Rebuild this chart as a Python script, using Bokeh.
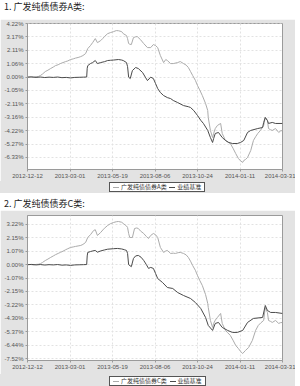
import pandas as pd
from bokeh.plotting import figure
from bokeh.models import (FixedTicker, DatetimeTickFormatter, PrintfTickFormatter,
                          Div, Spacer, Range1d)
from bokeh.layouts import column, row
from bokeh.embed import file_html
from bokeh.resources import INLINE

START = "2012-12-12"
x_tick_labels = ["2012-12-12", "2013-03-01", "2013-05-19", "2013-08-06",
                 "2013-10-24", "2014-01-11", "2014-03-31"]

titles = ["1. 广发纯债债券A类:", "2. 广发纯债债券C类:"]
series_names_1 = ["广发纯债债券A类", "业绩基准"]
series_names_2 = ["广发纯债债券C类", "业绩基准"]

y_ticks_1 = [4.22, 3.17, 2.11, 1.06, 0.00, -1.05, -2.11, -3.16, -4.22, -5.27, -6.33]
y_ticks_2 = [3.22, 2.15, 1.07, 0.00, -1.07, -2.15, -3.22, -4.30, -5.37, -6.44, -7.52]

# ---- chart 1: fund A (days since 2012-12-12, cumulative return %) ----
fund_a_days = [0, 5, 11, 16, 20, 24, 28, 33, 38, 43, 48, 52, 57, 61, 66, 71, 75, 80, 85, 89,
               94, 99, 103, 108, 112, 117, 121, 126, 130, 136, 140, 143, 149, 154, 160, 165,
               169, 175, 178, 184, 186, 188, 190, 193, 197, 201, 204, 210, 216, 223, 229, 234,
               238, 242, 247, 253, 257, 260, 266, 271, 279, 284, 290, 295, 299, 303, 307, 312,
               316, 320, 325, 331, 335, 336, 340, 344, 346, 349, 353, 359, 362, 368, 372, 377,
               382, 387, 392, 396, 400, 402, 405, 409, 415, 420, 424, 428, 433, 439, 442, 446,
               448, 452, 455, 461, 467, 470, 474]
fund_a_vals = [0.00, 0.02, -0.01, 0.03, 0.05, 0.13, 0.25, 0.44, 0.55, 0.68, 0.80, 0.91, 0.98,
               1.07, 1.15, 1.23, 1.28, 1.39, 1.44, 1.50, 1.55, 1.62, 1.70, 1.86, 2.25, 2.49,
               2.72, 3.04, 2.72, 2.88, 3.05, 3.20, 3.43, 3.51, 3.59, 3.67, 3.66, 3.59, 3.43,
               3.28, 3.04, 2.65, 2.60, 2.57, 3.12, 3.18, 3.20, 2.96, 2.65, 2.33, 2.33, 2.57,
               2.49, 2.33, 1.70, 1.15, 1.39, 1.31, 1.07, 1.07, 1.15, 1.23, 1.07, 0.95, 0.76,
               0.45, 0.13, -0.25, -0.66, -1.00, -1.45, -2.08, -2.63, -3.18, -4.20, -4.76,
               -4.44, -4.05, -3.81, -3.65, -4.44, -4.99, -5.10, -5.23, -5.60, -6.02, -6.41,
               -6.60, -6.72, -6.57, -6.50, -6.33, -5.78, -4.99, -4.70, -4.44, -4.20, -3.81,
               -3.18, -3.42, -4.05, -4.15, -4.20, -4.05, -4.36, -4.25, -4.20]

bench_1_days = [0, 8, 16, 24, 32, 40, 48, 56, 64, 72, 80, 88, 96, 104, 110, 111, 112, 117, 121,
                126, 130, 136, 143, 149, 154, 160, 169, 175, 178, 184, 186, 188, 191, 195, 201,
                206, 214, 219, 223, 229, 234, 238, 242, 247, 253, 260, 266, 271, 279, 290, 299,
                303, 309, 316, 322, 327, 335, 340, 344, 346, 349, 355, 362, 368, 374, 381, 390,
                396, 402, 409, 415, 428, 437, 439, 442, 446, 448, 455, 461, 474]
bench_1_vals = [0.00, 0.02, -0.02, 0.01, -0.03, 0.00, -0.02, 0.01, -0.04, -0.02, -0.06, -0.02,
                -0.01, 0.00, 0.01, 0.70, 0.91, 1.07, 1.15, 1.31, 1.07, 1.15, 1.22, 1.31, 1.33,
                1.35, 1.39, 1.35, 1.31, 1.15, 0.83, 0.00, -0.11, 0.52, 0.76, 0.68, 0.36, 0.00,
                -0.27, 0.00, -0.11, -0.50, -0.90, -1.21, -1.45, -1.61, -1.69, -1.84, -2.00,
                -2.24, -2.33, -2.39, -2.63, -3.02, -3.40, -3.65, -4.20, -4.76, -5.15, -4.84,
                -4.44, -4.36, -4.76, -4.99, -5.15, -5.23, -5.23, -5.15, -4.99, -4.36, -4.20,
                -4.05, -3.97, -3.57, -3.18, -3.42, -3.65, -3.57, -3.65, -3.65]

# ---- chart 2: fund C ----
fund_c_days = [0, 5, 11, 16, 20, 24, 28, 33, 38, 43, 48, 52, 57, 61, 66, 71, 75, 80, 85, 89,
               94, 99, 103, 108, 112, 117, 123, 126, 130, 136, 140, 143, 149, 154, 160, 165,
               169, 175, 178, 184, 186, 188, 190, 195, 199, 203, 206, 210, 216, 221, 225, 229,
               234, 238, 242, 247, 253, 257, 260, 266, 271, 275, 280, 284, 290, 295, 299, 303,
               307, 312, 316, 320, 325, 331, 335, 336, 340, 344, 346, 349, 353, 359, 362, 368,
               372, 377, 382, 387, 392, 396, 400, 405, 411, 418, 424, 429, 434, 439, 442, 446,
               448, 452, 455, 461, 467, 470, 474]
fund_c_vals = [0.00, 0.01, -0.02, 0.02, 0.03, 0.08, 0.18, 0.33, 0.45, 0.58, 0.70, 0.80, 0.90,
               0.98, 1.08, 1.20, 1.28, 1.38, 1.42, 1.46, 1.50, 1.54, 1.62, 1.78, 2.18, 2.40,
               2.74, 2.80, 2.34, 2.58, 2.78, 2.92, 3.14, 3.28, 3.38, 3.44, 3.46, 3.40, 3.30,
               3.10, 2.98, 2.50, 2.18, 2.18, 2.90, 2.94, 2.90, 2.70, 2.50, 2.25, 2.10, 2.34,
               2.50, 2.40, 2.18, 1.38, 0.98, 1.10, 1.14, 0.90, 0.92, 0.90, 0.96, 0.98, 0.90,
               0.78, 0.58, 0.28, -0.07, -0.45, -0.87, -1.25, -1.67, -2.40, -3.10, -3.43,
               -4.47, -5.03, -4.71, -4.45, -4.23, -3.91, -4.71, -5.27, -5.45, -5.67, -6.05,
               -6.47, -6.72, -6.95, -7.12, -6.88, -6.64, -6.07, -5.27, -4.87, -4.65, -4.47,
               -3.43, -3.83, -4.47, -4.55, -4.63, -4.47, -4.71, -4.65, -4.63]

bench_2_days = [0, 8, 16, 24, 32, 40, 48, 56, 64, 72, 80, 88, 96, 104, 110, 111, 112, 117, 121,
                126, 130, 136, 143, 149, 160, 167, 175, 180, 184, 186, 188, 193, 197, 201, 206,
                211, 216, 221, 225, 229, 234, 238, 242, 251, 260, 270, 279, 290, 303, 312, 322,
                331, 336, 344, 349, 355, 362, 372, 381, 390, 400, 409, 420, 437, 442, 446, 452,
                461, 474]
bench_2_vals = [0.00, 0.02, -0.02, 0.01, -0.03, 0.00, -0.02, 0.01, -0.04, -0.02, -0.06, -0.02,
                -0.01, 0.00, 0.01, 0.70, 0.98, 1.05, 1.10, 1.14, 1.00, 1.10, 1.18, 1.24, 1.28,
                1.30, 1.26, 1.20, 1.14, 0.90, 0.00, -0.16, 0.50, 0.70, 0.74, 0.60, 0.34, 0.00,
                -0.30, -0.22, -0.30, -0.70, -1.11, -1.43, -1.83, -1.91, -2.23, -2.47, -2.71,
                -3.03, -3.51, -4.23, -4.87, -5.27, -4.71, -4.63, -5.03, -5.27, -5.43, -5.43,
                -5.27, -4.63, -4.31, -4.23, -3.27, -3.67, -3.83, -3.83, -3.91]

FUND_COLOR = "#ababab"
BENCH_COLOR = "#4a4a4a"
PANEL = "#e3e3e3"
CJK = "Noto Sans CJK SC"
NUM = "Liberation Sans"


def to_dates(days):
    return pd.Timestamp(START) + pd.to_timedelta(days, unit="D")


def make_chart(fund_days, fund_vals, bench_days, bench_vals, yticks, ylo, yhi,
               height, top, bottom):
    x0 = pd.Timestamp(x_tick_labels[0])
    x1 = pd.Timestamp(x_tick_labels[-1])
    p = figure(width=295, height=height, x_axis_type="datetime",
               x_range=Range1d(x0, x1), y_range=Range1d(ylo, yhi),
               output_backend="svg", toolbar_location=None,
               min_border_left=27, min_border_right=13,
               min_border_top=top, min_border_bottom=bottom)
    p.border_fill_color = PANEL
    p.background_fill_color = "white"
    p.outline_line_color = "#9a9a9a"

    p.line(to_dates(fund_days), fund_vals, line_color=FUND_COLOR, line_width=1)
    p.line(to_dates(bench_days), bench_vals, line_color=BENCH_COLOR, line_width=1)

    xt = [pd.Timestamp(s).value // 10**6 for s in x_tick_labels]
    p.xaxis.ticker = FixedTicker(ticks=xt)
    fmt = "%Y-%m-%d"
    p.xaxis.formatter = DatetimeTickFormatter(
        milliseconds=fmt, seconds=fmt, minsec=fmt, minutes=fmt, hourmin=fmt,
        hours=fmt, days=fmt, months=fmt, years=fmt)
    p.yaxis.ticker = FixedTicker(ticks=yticks)
    p.yaxis.formatter = PrintfTickFormatter(format="%.2f%%")

    for ax in (p.xaxis[0], p.yaxis[0]):
        ax.major_label_text_font = NUM
        ax.major_label_text_font_size = "6px"
        ax.major_label_text_color = "#555555"
        ax.axis_line_color = "#9a9a9a"
        ax.major_tick_line_color = "#9a9a9a"
        ax.major_tick_out = 2
        ax.major_tick_in = 0
        ax.minor_tick_line_color = None
        ax.major_label_standoff = 2

    for g in (p.xgrid[0], p.ygrid[0]):
        g.grid_line_color = "#e2e2e2"
        g.grid_line_dash = "2 2"
    return p


def legend_div(names, height, left, top):
    def swatch(color):
        return (f'<span style="display:inline-block;width:6px;height:0;'
                f'border-top:1px solid {color};vertical-align:middle;'
                f'margin-right:2px"></span>')
    html = (f'<div style="position:absolute;left:{left}px;top:{top}px;'
            f'background:#fff;border:1px solid #555;padding:0 3px;'
            f'font-family:\'{CJK}\';font-size:6px;line-height:8px;color:#333;'
            f'white-space:nowrap">'
            f'{swatch(FUND_COLOR)}{names[0]}&nbsp;&nbsp;{swatch(BENCH_COLOR)}{names[1]}</div>')
    return Div(text=html, width=295, height=height, margin=(0, 0, 0, 0),
               styles={"background-color": PANEL, "position": "relative",
                       "overflow": "hidden"})


def title_div(text, height, pad_top):
    return Div(text=text, width=300, height=height, margin=(0, 0, 0, 0),
               styles={"font-family": CJK, "font-size": "9px", "color": "#222222",
                       "padding-left": "4px", "padding-top": f"{pad_top}px",
                       "line-height": "12px", "white-space": "nowrap"})


def white_gap(h):
    return Spacer(width=5, height=h, margin=(0, 0, 0, 0))


p1 = make_chart(fund_a_days, fund_a_vals, bench_1_days, bench_1_vals,
                y_ticks_1, -7.28, 4.23, 162, 4, 12)
p2 = make_chart(fund_c_days, fund_c_vals, bench_2_days, bench_2_vals,
                y_ticks_2, -7.68, 3.94, 164, 5, 14)

layout = column(
    title_div(titles[0], 19, 1),
    row(p1, white_gap(162), margin=(0, 0, 0, 0)),
    row(legend_div(series_names_1, 12, 109, 1), white_gap(12), margin=(0, 0, 0, 0)),
    title_div(titles[1], 17, 5),
    row(p2, white_gap(164), margin=(0, 0, 0, 0)),
    row(legend_div(series_names_2, 12, 109, 2), white_gap(12), margin=(0, 0, 0, 0)),
    margin=(0, 0, 0, 0),
)

open("out.html", "w").write(file_html(layout, INLINE))
